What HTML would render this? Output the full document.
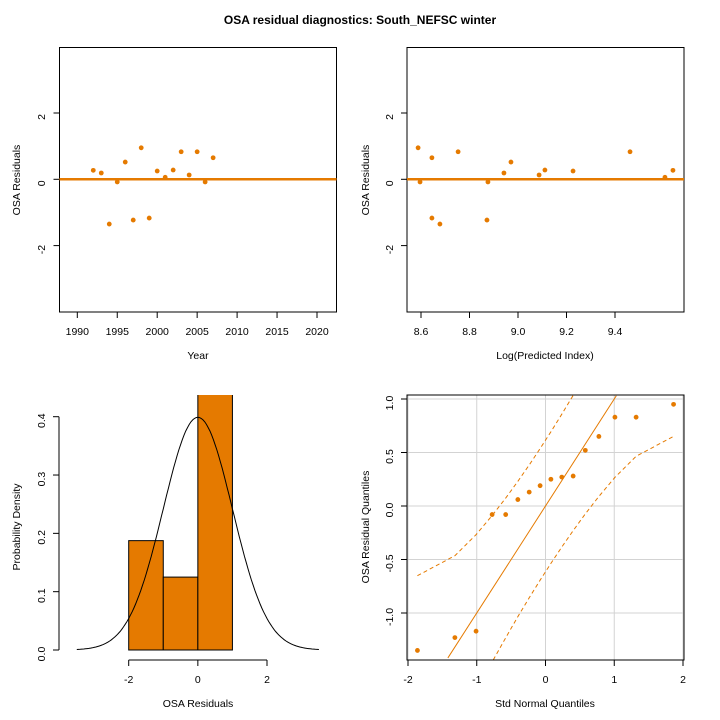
<!DOCTYPE html>
<html><head><meta charset="utf-8"><style>
html,body{margin:0;padding:0;background:#fff;width:720px;height:720px;overflow:hidden}
svg{display:block;font-family:"Liberation Sans",Arial,sans-serif;overflow:hidden}
</style></head><body>
<svg id="s" width="720" height="720" viewBox="0 0 720 720">
<defs>
<clipPath id="c1"><rect x="59.5" y="47.5" width="277" height="264.5"/></clipPath>
<clipPath id="c2"><rect x="407" y="47.5" width="277" height="264.5"/></clipPath>
<clipPath id="c3"><rect x="59" y="395" width="278" height="265"/></clipPath>
<clipPath id="c4"><rect x="407" y="395" width="277" height="265"/></clipPath>
</defs>
<text x="360" y="24" text-anchor="middle" font-size="12" font-weight="bold">OSA residual diagnostics: South_NEFSC winter</text>
</svg>
<script>
const years=[1992,1993,1994,1995,1996,1997,1998,1999,2000,2001,2002,2003,2004,2005,2006,2007];
const residuals=[0.27,0.19,-1.35,-0.08,0.52,-1.23,0.95,-1.17,0.25,0.06,0.28,0.83,0.13,0.83,-0.08,0.65];
const logPred=[9.639,8.942,8.678,8.596,8.971,8.872,8.588,8.645,9.227,9.606,9.111,8.753,9.087,9.462,8.876,8.645];
const yearTicks=[1990,1995,2000,2005,2010,2015,2020];
const resTicks=[-2,0,2];
const predTicks=[8.6,8.8,9.0,9.2,9.4];
const histBreaks=[-2,-1,0,1];
const densTicks=[0,0.1,0.2,0.3,0.4];
const histXTicks=[-2,0,2];
const qqXTicks=[-2,-1,0,1,2];
const qqYTicks=[-1.0,-0.5,0,0.5,1.0];
const ORANGE="#E57A00";
const S=document.getElementById('s');
const NS="http://www.w3.org/2000/svg";
function el(tag,at,parent){const e=document.createElementNS(NS,tag);for(const k in at)e.setAttribute(k,at[k]);(parent||S).appendChild(e);return e;}
function txt(x,y,s,size,rot){const t=el('text',{x:x,y:y,'text-anchor':'middle','font-size':size||10.5});if(rot)t.setAttribute('transform','rotate(-90 '+x+' '+y+')');t.textContent=s;return t;}
function lin(d0,d1,r0,r1){return v=>r0+(v-d0)/(d1-d0)*(r1-r0);}
function qnorm(p){const a=[-39.6968302866538,220.946098424521,-275.928510446969,138.357751867269,-30.6647980661472,2.50662827745924],b=[-54.4760987982241,161.585836858041,-155.698979859887,66.8013118877197,-13.2806815528857],c=[-0.00778489400243029,-0.322396458041136,-2.40075827716184,-2.54973253934373,4.37466414146497,2.93816398269878],d=[0.00778469570904146,0.32246712907004,2.445134137143,3.75440866190742];
let q,r;if(p<0.02425){q=Math.sqrt(-2*Math.log(p));return(((((c[0]*q+c[1])*q+c[2])*q+c[3])*q+c[4])*q+c[5])/((((d[0]*q+d[1])*q+d[2])*q+d[3])*q+1);}
if(p>1-0.02425){q=Math.sqrt(-2*Math.log(1-p));return-(((((c[0]*q+c[1])*q+c[2])*q+c[3])*q+c[4])*q+c[5])/((((d[0]*q+d[1])*q+d[2])*q+d[3])*q+1);}
q=p-0.5;r=q*q;return(((((a[0]*r+a[1])*r+a[2])*r+a[3])*r+a[4])*r+a[5])*q/(((((b[0]*r+b[1])*r+b[2])*r+b[3])*r+b[4])*r+1);}
function dnorm(z){return Math.exp(-z*z/2)/Math.sqrt(2*Math.PI);}

// Panel 1
(function(){
const x=lin(1990,2020,77.3,317), y=lin(0,2,179.3,113);
const g=el('g',{});
const b=el('rect',{x:59.5,y:47.5,width:277,height:264.5,fill:'none',stroke:'#000'},g);

yearTicks.forEach(t=>{el('line',{x1:x(t),x2:x(t),y1:312,y2:318,stroke:'#000'},g);const l=txt(x(t),335,String(t));g.appendChild(l);});
resTicks.forEach(t=>{el('line',{x1:59.5,x2:53.5,y1:y(t),y2:y(t),stroke:'#000'},g);const l=txt(45,y(t)+4,String(t),10.5,true);g.appendChild(l);});
const cg=el('g',{'clip-path':'url(#c1)'},g);
const h=el('line',{x1:59.5,x2:336.5,y1:y(0),y2:y(0),stroke:ORANGE,'stroke-width':2.5},cg);

years.forEach((yr,i)=>{const p=el('circle',{cx:x(yr),cy:y(residuals[i]),r:2.4,fill:ORANGE},cg);});
const xt=txt(198,359,'Year');g.appendChild(xt);
const yt=txt(20,180,'OSA Residuals',10.5,true);g.appendChild(yt);
})();

// Panel 2
(function(){
const x=lin(8.6,9.4,421,615), y=lin(0,2,179.3,113);
const g=el('g',{});
const b=el('rect',{x:407,y:47.5,width:277,height:264.5,fill:'none',stroke:'#000'},g);

predTicks.forEach(t=>{el('line',{x1:x(t),x2:x(t),y1:312,y2:318,stroke:'#000'},g);const l=txt(x(t),335,t.toFixed(1));g.appendChild(l);});
resTicks.forEach(t=>{el('line',{x1:407,x2:401,y1:y(t),y2:y(t),stroke:'#000'},g);const l=txt(393,y(t)+4,String(t),10.5,true);g.appendChild(l);});
const cg=el('g',{'clip-path':'url(#c2)'},g);
const h=el('line',{x1:407,x2:684,y1:y(0),y2:y(0),stroke:ORANGE,'stroke-width':2.5},cg);

logPred.forEach((v,i)=>{const p=el('circle',{cx:x(v),cy:y(residuals[i]),r:2.4,fill:ORANGE},cg);});
const xt=txt(545,359,'Log(Predicted Index)');g.appendChild(xt);
const yt=txt(369,180,'OSA Residuals',10.5,true);g.appendChild(yt);
})();

// Panel 3 histogram
(function(){
const x=lin(-2,2,128.7,267), y=lin(0,0.4,650,416.7);
const g=el('g',{});
const cg=el('g',{'clip-path':'url(#c3)'},g);
const n=residuals.length;
for(let i=0;i<histBreaks.length-1;i++){
 const lo=histBreaks[i],hi=histBreaks[i+1];
 const cnt=residuals.filter(v=>(i===0?v>=lo:v>lo)&&v<=hi).length;
 const d=cnt/n/(hi-lo);
 const top=Math.max(y(d),394);
 const r=el('rect',{x:x(lo),y:top,width:x(hi)-x(lo),height:y(0)-top,fill:ORANGE,stroke:'#000','stroke-width':1},cg);
 
}
let pts=[];for(let z=-3.5;z<=3.5001;z+=0.05)pts.push(x(z).toFixed(1)+','+y(dnorm(z)).toFixed(1));
const c=el('polyline',{points:pts.join(' '),fill:'none',stroke:'#000','stroke-width':1},cg);

el('line',{x1:59,x2:59,y1:y(0),y2:y(0.4),stroke:'#000'},g);
densTicks.forEach(t=>{el('line',{x1:59,x2:53,y1:y(t),y2:y(t),stroke:'#000'},g);const l=txt(45,y(t)+4,t.toFixed(1),10.5,true);g.appendChild(l);});
el('line',{x1:x(-2),x2:x(2),y1:660,y2:660,stroke:'#000'},g);
histXTicks.forEach(t=>{el('line',{x1:x(t),x2:x(t),y1:660,y2:666,stroke:'#000'},g);const l=txt(x(t),683,String(t));g.appendChild(l);});
const xt=txt(198,707,'OSA Residuals');g.appendChild(xt);
const yt=txt(20,527,'Probability Density',10.5,true);g.appendChild(yt);
})();

// Panel 4 QQ
(function(){
const x=lin(-2,2,408,683), y=lin(-1,1,613,399);
const g=el('g',{});
qqXTicks.forEach(t=>{const l=el('line',{x1:x(t),x2:x(t),y1:395,y2:660,stroke:'#d3d3d3'},g);});
qqYTicks.forEach(t=>{const l=el('line',{x1:407,x2:684,y1:y(t),y2:y(t),stroke:'#d3d3d3'},g);});
const cg=el('g',{'clip-path':'url(#c4)'},g);
const n=residuals.length;
const sorted=residuals.slice().sort((a,b)=>a-b);
const zq=sorted.map((v,i)=>qnorm((i+0.5)/n));
const ref=el('line',{x1:x(-1.42),y1:y(-1.42),x2:x(1.03),y2:y(1.03),stroke:ORANGE,'stroke-width':1},cg);

const up=[],lo=[];
const clampY=v=>Math.min(662,Math.max(393,v));
zq.forEach((z,i)=>{const p=(i+0.5)/n;const se=1.96*Math.sqrt(p*(1-p)/n)/dnorm(z);up.push(x(z).toFixed(1)+','+clampY(y(z+se)).toFixed(1));lo.push(x(z).toFixed(1)+','+clampY(y(z-se)).toFixed(1));});
const u=el('polyline',{points:up.join(' '),fill:'none',stroke:ORANGE,'stroke-dasharray':'4,3'},cg);

const l2=el('polyline',{points:lo.join(' '),fill:'none',stroke:ORANGE,'stroke-dasharray':'4,3'},cg);

sorted.forEach((v,i)=>{const p=el('circle',{cx:x(zq[i]),cy:y(v),r:2.4,fill:ORANGE},cg);});
const b=el('rect',{x:407,y:395,width:277,height:265,fill:'none',stroke:'#000'},g);

qqXTicks.forEach(t=>{el('line',{x1:x(t),x2:x(t),y1:660,y2:666,stroke:'#000'},g);const l=txt(x(t),683,String(t));g.appendChild(l);});
qqYTicks.forEach(t=>{el('line',{x1:407,x2:401,y1:y(t),y2:y(t),stroke:'#000'},g);const l=txt(393,y(t)+4,t.toFixed(1),10.5,true);g.appendChild(l);});
const xt=txt(545,707,'Std Normal Quantiles');g.appendChild(xt);
const yt=txt(369,527,'OSA Residual Quantiles',10.5,true);g.appendChild(yt);
})();
</script>
</body></html>
